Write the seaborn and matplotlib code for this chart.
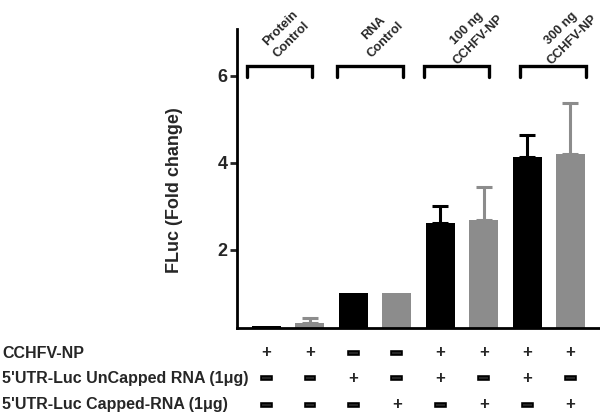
import numpy as np
import pandas as pd
import matplotlib
matplotlib.use('Agg')
import matplotlib.pyplot as plt
import matplotlib.transforms as mtransforms
import matplotlib.patheffects as pe
import seaborn as sns

# bar values (fold change)
samples = ['P-NP', 'P-ctrl', 'R-Un', 'R-Cap', '100-Un', '100-Cap', '300-Un', '300-Cap']
values = [0.25, 0.32, 1.0, 1.0, 2.62, 2.69, 4.14, 4.20]
errors = [0.0, 0.10, 0.0, 0.0, 0.38, 0.76, 0.49, 1.17]
kind = ['uncapped', 'capped', 'uncapped', 'capped', 'uncapped', 'capped', 'uncapped', 'capped']

group_labels = ['Protein\nControl', 'RNA\nControl', '100 ng\nCCHFV-NP', '300 ng\nCCHFV-NP']

row_labels = ['CCHFV-NP', "5'UTR-Luc UnCapped RNA (1\u03bcg)", "5'UTR-Luc Capped-RNA (1\u03bcg)"]
row_signs = [
    ['+', '+', '-', '-', '+', '+', '+', '+'],
    ['-', '-', '+', '-', '+', '-', '+', '-'],
    ['-', '-', '-', '+', '-', '+', '-', '+'],
]

colors = {'uncapped': '#000000', 'capped': '#8c8c8c'}

df = pd.DataFrame({'sample': samples, 'value': values, 'err': errors, 'kind': kind})

sns.set_style('white')
plt.rcParams['font.family'] = ['Liberation Sans', 'DejaVu Sans']
plt.rcParams['font.weight'] = 'bold'

fig = plt.figure(figsize=(6, 4.12), dpi=100)
ax = fig.add_axes([0.395, 0.204, 0.605, 0.726])

sns.barplot(data=df, x='sample', y='value', hue='kind', palette=colors,
            order=samples, dodge=False, width=0.67, legend=False, ax=ax,
            edgecolor='none')

# upper-only error bars
xpos = np.arange(len(samples))
for i in xpos:
    if errors[i] > 0:
        ax.errorbar(i, values[i], yerr=[[0], [errors[i]]], fmt='none',
                    ecolor=colors[kind[i]], elinewidth=2.2, capsize=5.5,
                    capthick=2.2, zorder=3)

ax.set_xlim(-0.68, 7.68)
ax.set_ylim(0.2, 7.08)
ax.set_yticks([2, 4, 6])
ax.set_yticklabels(['2', '4', '6'], fontsize=13, fontweight='bold')
ax.set_xticks([])
ax.set_xlabel('')
ax.set_ylabel('FLuc (Fold change)', fontsize=13, fontweight='bold')
ax.yaxis.set_label_coords(-0.15, 0.46)
ax.tick_params(axis='y', direction='out', length=5, width=2, pad=2, left=True)
for s in ['top', 'right']:
    ax.spines[s].set_visible(False)
for s in ['left', 'bottom']:
    ax.spines[s].set_linewidth(2)
    ax.spines[s].set_color('black')

# brackets over each pair, with rotated group labels
bracket_x = [(-0.45, 1.05), (1.63, 3.14), (3.62, 5.12), (5.84, 7.36)]
label_x = [0.45, 2.6, 4.74, 6.92]
for (x0, x1), lx, lab in zip(bracket_x, label_x, group_labels):
    ax.plot([x0, x0, x1, x1], [5.98, 6.23, 6.23, 5.98], color='black',
            lw=2.4, solid_joinstyle='miter', clip_on=False)
    ax.text(lx, 6.96, lab, rotation=45, ha='center', va='center',
            fontsize=9.2, fontweight='bold', linespacing=1.45,
            multialignment='center', clip_on=False)

# table of +/- under the bars
trans = mtransforms.blended_transform_factory(ax.transData, fig.transFigure)
row_y = [1 - 353 / 412, 1 - 378 / 412, 1 - 405 / 412]
dash_fx = [pe.withStroke(linewidth=2.6, foreground='black', capstyle='butt', joinstyle='miter')]
for lab, signs, y in zip(row_labels, row_signs, row_y):
    fig.text(0.004, y, lab, ha='left', va='center', fontsize=11.5, fontweight='bold')
    for i, sg in enumerate(signs):
        if sg == '+':
            ax.text(i, y, '+', transform=trans, ha='center', va='center',
                    fontsize=12, fontweight='bold', clip_on=False)
        else:
            ax.text(i, y, '\u2013', transform=trans, ha='center', va='center',
                    fontsize=13, fontweight='bold', clip_on=False,
                    path_effects=dash_fx)

fig.savefig('out.png', dpi=100)
